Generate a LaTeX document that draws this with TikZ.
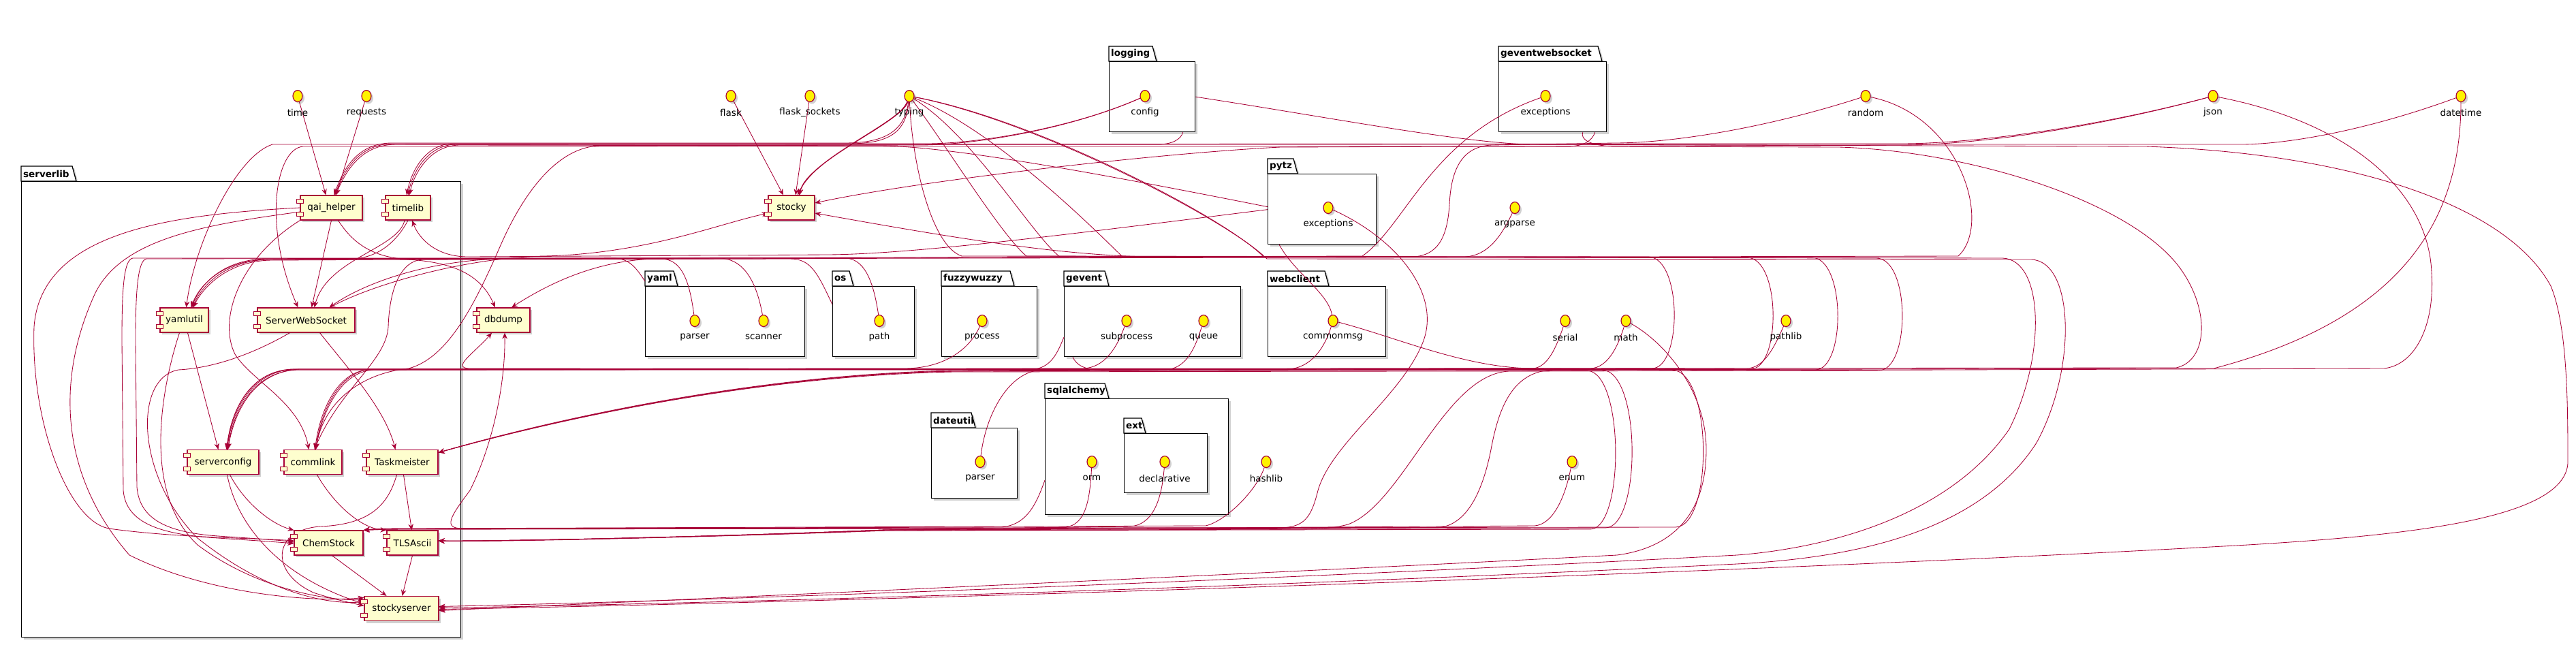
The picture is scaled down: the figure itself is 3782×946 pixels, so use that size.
\documentclass[tikz,border=0pt]{standalone}
\usepackage{fontspec}
\setmainfont{DejaVu Sans}
\usetikzlibrary{arrows.meta,shadows,shapes.geometric}
\definecolor{crim}{HTML}{A80036}
\definecolor{compfill}{HTML}{FEFECE}
\pgfdeclarelayer{bg}
\pgfdeclarelayer{edges}
\pgfsetlayers{bg,edges,main}
\tikzset{
 every node/.style={font=\fontsize{13.5}{16}\selectfont},
 shd/.style={drop shadow={shadow xshift=3pt, shadow yshift=-3pt, opacity=0.18, fill=black}},
 comp/.style={rectangle, draw=crim, line width=1.2pt, fill=compfill, minimum height=36pt, inner sep=0pt, shd},
 port/.style={draw=crim, line width=1pt, fill=compfill},
 iface/.style={ellipse, draw=crim, line width=1.2pt, fill=yellow, minimum width=14pt, minimum height=17pt, inner sep=0pt, shd},
 ilabel/.style={inner sep=0pt},
 pkgline/.style={draw=black, line width=1.3pt, fill=white, shd},
 pkgbody/.style={rectangle, draw=black, line width=1.3pt, fill=white, inner sep=0pt, shd},
 pkglabel/.style={inner sep=0pt, font=\fontsize{13.5}{16}\selectfont\bfseries},
 e/.style={draw=crim, line width=0.85pt, -{Stealth[length=9pt,width=7.5pt,inset=3pt]}},
 l/.style={draw=crim, line width=0.85pt},
}
% name, label, x1, x2, tabtop, bodytop, bottom, tabright
\newcommand\pkg[8]{%
 \draw[pkgline] (#3,#6) -- (#3,#5) -- (#8-6,#5) -- (#8,#6) -- cycle;
 \node[pkgbody, anchor=north west, minimum width={(#4)-(#3)}, minimum height={(#7)-(#6)}] (#1) at (#3,#6) {};
 \node[pkglabel, anchor=west] (#1-lbl) at (#3+3,{((#5)+(#6))/2}) {#2};}
\newcommand\comp[5]{%
 \node[comp, minimum width=#4pt] (#1) at (#2,#3) {#5};
 \draw[port] ([xshift=-5pt,yshift=-6pt]#1.north west) rectangle ++(10pt,-6pt);
 \draw[port] ([xshift=-5pt,yshift=6pt]#1.south west) rectangle ++(10pt,6pt);}
\newcommand\ifc[4]{%
 \node[iface] (#1) at (#2,#3) {};
 \node[ilabel] (#1-lbl) at (#2,#3+24) {#4};}
\begin{document}
\begin{tikzpicture}[x=1pt,y=-1pt]
\useasboundingbox (0,0) rectangle (3782,946);
\begin{pgfonlayer}{bg}
\fill[white] (0,0) rectangle (3782,946);
\pkg{serverlibP}{serverlib}{31}{676}{244}{266}{935}{112}
\pkg{loggingP}{logging}{1628}{1754}{68}{90}{193}{1698}
\pkg{gwsP}{geventwebsocket}{2200}{2358}{68}{90}{193}{2352}
\pkg{pytzP}{pytz}{1861}{2020}{233}{255}{358}{1905}
\pkg{yamlP}{yaml}{947}{1181}{398}{420}{523}{995}
\pkg{osP}{os}{1222}{1342}{398}{420}{523}{1253}
\pkg{fuzzyP}{fuzzywuzzy}{1382}{1522}{398}{420}{523}{1489}
\pkg{geventP}{gevent}{1562}{1821}{398}{420}{523}{1628}
\pkg{webclientP}{webclient}{1861}{2034}{398}{420}{523}{1951}
\pkg{dateutilP}{dateutil}{1367}{1493}{606}{628}{731}{1432}
\pkg{sqlP}{sqlalchemy}{1534}{1803}{563}{585}{755}{1628}
\pkg{extP}{ext}{1650}{1772}{614}{636}{723}{1682}
\end{pgfonlayer}

% components
\comp{qai}{486.5}{305}{91}{qai\_helper}
\comp{timelib}{599}{305}{66}{timelib}
\comp{stocky}{1162}{305}{68}{stocky}
\comp{yamlutil}{270.5}{470}{71}{yamlutil}
\comp{SWS}{449.5}{470}{143}{ServerWebSocket}
\comp{dbdump}{739}{470}{78}{dbdump}
\comp{serverconfig}{327.5}{678.5}{105}{serverconfig}
\comp{commlink}{459.5}{678.5}{85}{commlink}
\comp{Taskmeister}{590.5}{678.5}{105}{Taskmeister}
\comp{ChemStock}{482.5}{797}{101}{ChemStock}
\comp{TLSAscii}{605.5}{797}{75}{TLSAscii}
\comp{stockyserver}{589.5}{893.5}{109}{stockyserver}

% interfaces
\ifc{time}{437}{141}{time}
\ifc{requests}{538}{141}{requests}
\ifc{flask}{1073}{141}{flask}
\ifc{flasksockets}{1189}{141}{flask\_sockets}
\ifc{typing}{1335}{141}{typing}
\ifc{config}{1681}{141}{config}
\ifc{gwsexc}{2269}{141}{exceptions}
\ifc{random}{2739}{141}{random}
\ifc{json}{3249}{141}{json}
\ifc{datetime}{3613}{141}{datetime}
\ifc{pytzexc}{1950}{305}{exceptions}
\ifc{argparse}{2224}{305}{argparse}
\ifc{yparser}{1020}{471}{parser}
\ifc{yscanner}{1121}{471}{scanner}
\ifc{path}{1291}{471}{path}
\ifc{process}{1442}{471}{process}
\ifc{subprocess}{1654}{471}{subprocess}
\ifc{queue}{1767}{471}{queue}
\ifc{commonmsg}{1957}{471}{commonmsg}
\ifc{serial}{2298}{471}{serial}
\ifc{math}{2387}{471}{math}
\ifc{pathlib}{2622}{471}{pathlib}
\ifc{duparser}{1439}{678}{parser}
\ifc{orm}{1603}{678}{orm}
\ifc{declarative}{1710}{678}{declarative}
\ifc{hashlib}{1859}{678}{hashlib}
\ifc{enum}{2308}{678}{enum}

\begin{pgfonlayer}{edges}
% direct top
\draw[e] (time) -- ([xshift=-8pt]qai.north);
\draw[e] (requests) -- ([xshift=7pt]qai.north);
\draw[e] (flask) -- ([xshift=-12pt]stocky.north);
\draw[e] (flasksockets) -- ([xshift=6pt]stocky.north);
\draw[e] (typing) .. controls (1318,185) and (1200,225) .. ([xshift=9pt]stocky.north);
\draw[e] (typing) .. controls (1322,180) and (1190,232) .. ([xshift=11pt]stocky.north);
\draw[e] (typing) .. controls (1326,178) and (1182,238) .. ([xshift=12pt]stocky.north);
% band A
\draw[e] (typing) .. controls (1328,192) and (1300,210) .. (1240,210) -- (575,210) .. controls (527,210) and (505,245) .. ([xshift=4pt]qai.north);
\draw[e] (config) .. controls (1580,186) and (1440,211) .. (1360,211) -- (578,211) .. controls (529,211) and (507,247) .. ([xshift=5pt]qai.north);
\draw[e] ([xshift=45pt]loggingP.south) .. controls (1734,204) and (1722,212) .. (1700,212) -- (582,212) .. controls (531,212) and (509,249) .. ([xshift=6pt]qai.north);
\draw[e] (typing) .. controls (1330,195) and (1305,211) .. (1245,211) -- (665,211) .. controls (626,211) and (604,250) .. ([xshift=-2pt]timelib.north);
\draw[e] (datetime) .. controls (3480,190) and (3360,212) .. (3290,212) -- (670,212) .. controls (629,212) and (606,252) .. (timelib.north);
\draw[e] ([yshift=3.5pt]pytzP.west) .. controls (1650,262) and (1400,214) .. (1290,214) -- (675,213) .. controls (632,213) and (608,254) .. ([xshift=2pt]timelib.north);
\draw[e] ([xshift=62pt]gwsP.south) .. controls (2338,205) and (2328,215) .. (2300,215) -- (445,215) .. controls (405,218) and (385,330) .. ([xshift=-12pt]SWS.north);
\draw[e] (json) .. controls (3080,186) and (2900,211) .. (2790,211) -- (400,212) .. controls (345,230) and (285,360) .. ([xshift=3pt]yamlutil.north);
\draw[e] (json) .. controls (3075,188) and (2900,213) .. (2790,213) -- (1880,216) .. controls (1700,225) and (1350,265) .. ([yshift=7pt]stocky.east);
\draw[e] (random) .. controls (2600,186) and (2460,210) .. (2370,210) -- (2190,213) .. controls (2140,215) and (2130,260) .. (2128,300) .. controls (2125,350) and (2110,375) .. (2075,377) -- (215,380) .. controls (202,382) and (199,430) .. (199,500) -- (201,715) .. controls (205,765) and (250,782) .. (320,787) .. controls (380,791) and (410,793) .. ([yshift=1pt]ChemStock.west);
\draw[e] (loggingP.east) .. controls (1950,172) and (2130,207) .. (2240,212) -- (3150,215) .. controls (3450,225) and (3680,300) .. (3745,420) .. controls (3770,480) and (3770,600) .. (3770,680) .. controls (3765,760) and (3550,785) .. (3300,800) .. controls (2500,845) and (1200,885) .. ([yshift=-1pt]stockyserver.east);
\draw[e] ([xshift=44pt]gwsP.south) .. controls (2320,205) and (2335,214) .. (2370,215) -- (2700,216) .. controls (2900,222) and (3140,300) .. (3205,400) .. controls (3245,460) and (3240,530) .. (3195,540) -- (425,543) .. controls (368,546) and (340,600) .. ([xshift=5pt]serverconfig.north);
\draw[e] (config) .. controls (1570,190) and (1430,213) .. (1350,213) -- (880,214) .. controls (820,216) and (770,280) .. (735,360) .. controls (700,440) and (660,525) .. (600,541) .. controls (530,548) and (475,590) .. ([xshift=4pt]commlink.north);
% band B
\draw[e] ([yshift=7pt]yamlP.north west) .. controls (935,395) and (925,379) .. (900,379) -- (390,380) .. controls (330,381) and (295,415) .. ([xshift=11pt]yamlutil.north);
\draw[e] (yparser) .. controls (1012,410) and (1000,380) .. (970,380) -- (395,381) .. controls (333,382) and (297,418) .. ([xshift=12pt]yamlutil.north);
\draw[e] (yscanner) .. controls (1110,410) and (1090,379) .. (1055,379) -- (398,382) .. controls (336,383) and (299,420) .. ([xshift=13pt]yamlutil.north);
\draw[e] ([yshift=-27pt]osP.north west) .. controls (1200,400) and (1190,380) .. (1160,380) -- (620,381) .. controls (590,383) and (572,420) .. (570,480) .. controls (567,530) and (500,570) .. ([xshift=2pt]commlink.north);
\draw[e] (path) .. controls (1282,410) and (1268,379) .. (1240,379) -- (195,379) .. controls (181,381) and (179,430) .. (179,500) -- (181,720) .. controls (185,770) and (240,785) .. (320,790) .. controls (380,794) and (410,796) .. ([yshift=-1pt]ChemStock.west);
\draw[e] (gwsexc) .. controls (2100,200) and (2065,330) .. (2000,376) -- (730,380) .. controls (610,385) and (525,422) .. ([xshift=34pt]SWS.north);
\draw[e] (argparse) .. controls (2205,345) and (2185,376) .. (2150,377) -- (1700,377) .. controls (1550,377) and (1350,340) .. ([yshift=-8pt]stocky.east);
\draw[e] ([yshift=-0.5pt]pytzP.west) .. controls (1600,340) and (1350,373) .. (1215,374) -- (690,377) .. controls (640,378) and (615,350) .. ([xshift=6pt]timelib.south);
\draw[e] (random) .. controls (2880,170) and (2925,330) .. (2875,376) -- (960,380) .. controls (870,383) and (800,420) .. ([xshift=12pt]dbdump.north);
\draw[e] ([xshift=35pt]SWS.north) .. controls (540,420) and (680,378) .. (800,376) .. controls (950,372) and (1050,330) .. ([yshift=-8pt]stocky.west);
% typing via band B -> C
\draw[e] (typing) .. controls (1340,250) and (1370,362) .. (1412,376) -- (2420,377) .. controls (2470,378) and (2470,541) .. (2425,541) -- (428,542) .. controls (369,545) and (339,600) .. ([xshift=6pt]serverconfig.north);
\draw[e] (typing) .. controls (1390,215) and (1470,345) .. (1507,376) -- (2565,378) .. controls (2615,379) and (2615,542) .. (2570,542) -- (540,543) .. controls (497,546) and (470,600) .. ([xshift=3pt]commlink.north);
\draw[e] (typing) .. controls (1430,200) and (1515,345) .. (1556,377) -- (2660,378) .. controls (2710,379) and (2710,543) .. (2665,543) -- (690,541) .. controls (660,541) and (700,515) .. ([xshift=-17pt]dbdump.south);
\draw[e] (typing) .. controls (1460,190) and (1605,335) .. (1648,377) -- (2755,379) .. controls (2805,380) and (2805,544) .. (2758,544) -- (1400,546) .. controls (1100,552) and (800,620) .. ([yshift=14pt]Taskmeister.east);
\draw[e] (typing) .. controls (1520,175) and (1800,320) .. (1855,377) -- (2940,379) .. controls (3000,381) and (3005,520) .. (2950,630) .. controls (2860,760) and (2680,805) .. (2550,815) .. controls (1800,855) and (1000,883) .. ([yshift=3pt]stockyserver.east);
\draw[e] (typing) .. controls (1525,178) and (1805,325) .. (1860,380) -- (2982,381) .. controls (3045,383) and (3050,540) .. (2990,650) .. controls (2900,790) and (2700,820) .. (2550,828) .. controls (1800,865) and (1000,887) .. ([yshift=1pt]stockyserver.east);
% band C
\draw[e] (process) .. controls (1425,510) and (1390,540) .. (1330,541) -- (432,542) .. controls (371,545) and (341,600) .. ([xshift=6pt]serverconfig.north);
\draw[e] ([yshift=-75pt]geventP.north west) .. controls (1550,525) and (1540,542) .. (1510,543) -- (436,543) .. controls (373,546) and (343,600) .. ([xshift=7pt]serverconfig.north);
\draw[e] (subprocess) .. controls (1640,510) and (1622,540) .. (1590,541) -- (545,542) .. controls (500,545) and (472,600) .. ([xshift=4pt]commlink.north);
\draw[e] ([xshift=13pt]geventP.south west) .. controls (1580,535) and (1590,543) .. (1620,544) -- (2330,544) .. controls (2385,546) and (2385,776) .. (2335,777) -- (1300,779) .. controls (1000,790) and (700,795) .. ([yshift=3pt]TLSAscii.east);
\draw[e] (queue) .. controls (1755,510) and (1742,542) .. (1710,543) -- (1400,545) .. controls (1100,551) and (800,621) .. ([yshift=14pt]Taskmeister.east);
\draw[e] (commonmsg) .. controls (1945,510) and (1925,541) .. (1890,542) -- (1400,544) .. controls (1100,550) and (800,619) .. ([yshift=14pt]Taskmeister.east);
\draw[e] (serial) .. controls (2285,510) and (2272,540) .. (2250,541) -- (440,542) .. controls (375,545) and (345,600) .. ([xshift=7pt]serverconfig.north);
\draw[e] (math) .. controls (2375,510) and (2360,540) .. (2335,541) -- (548,543) .. controls (502,546) and (474,600) .. ([xshift=4pt]commlink.north);
\draw[e] (pathlib) .. controls (2605,510) and (2590,540) .. (2565,541) -- (1400,545) .. controls (1100,550) and (800,620) .. ([yshift=14pt]Taskmeister.east);
\draw[e] (datetime) .. controls (3613,330) and (3520,470) .. (3250,541) -- (2280,543) .. controls (2220,545) and (2200,600) .. (2189,660) .. controls (2175,730) and (2150,772) .. (2110,775) -- (600,777) .. controls (560,777) and (545,778) .. (ChemStock.north east);
\draw[e] (json) .. controls (3450,180) and (3565,280) .. (3570,400) .. controls (3575,480) and (3545,536) .. (3500,541) -- (2215,545) .. controls (2120,550) and (2060,740) .. (1979,770) .. controls (1960,775) and (1940,777) .. (1900,777) -- (1300,779) .. controls (1000,790) and (700,796) .. ([yshift=3pt]TLSAscii.east);
% band D
\draw[e] ([yshift=-120pt]sqlP.north west) .. controls (1520,745) and (1505,771) .. (1470,774) -- (600,776) .. controls (560,776) and (545,777) .. (ChemStock.north east);
\draw[e] (orm) .. controls (1600,740) and (1592,770) .. (1565,774) -- (1300,778) .. controls (1000,790) and (700,795) .. ([yshift=3pt]TLSAscii.east);
\draw[e] (declarative) .. controls (1705,740) and (1690,770) .. (1660,773) -- (1300,778) .. controls (1000,790) and (700,795) .. ([yshift=3pt]TLSAscii.east);
\draw[e] (hashlib) .. controls (1845,720) and (1800,765) .. (1770,772) -- (600,776) .. controls (560,776) and (545,777) .. (ChemStock.north east);
\draw[e] (enum) .. controls (2298,730) and (2280,770) .. (2253,772) -- (1300,778) .. controls (1000,790) and (700,795) .. ([yshift=3pt]TLSAscii.east);
\draw[e] (duparser) .. controls (1447,610) and (1480,545) .. (1530,543) -- (2352,543) .. controls (2410,545) and (2410,774) .. (2357,775) -- (1300,778) .. controls (1000,790) and (700,795) .. ([yshift=3pt]TLSAscii.east);
\draw[e] (commonmsg) .. controls (2050,495) and (2150,540) .. (2250,541) -- (2455,543) .. controls (2515,546) and (2515,773) .. (2460,774) -- (680,776) .. controls (650,776) and (660,760) .. (690,720) .. controls (725,650) and (742,560) .. ([xshift=2pt]dbdump.south);
\draw[e] (math) .. controls (2440,500) and (2505,570) .. (2505,660) .. controls (2505,760) and (2450,805) .. (2374,815) .. controls (1800,845) and (1000,880) .. ([yshift=-3pt]stockyserver.east);
\draw[e] (pytzexc) .. controls (2050,350) and (2115,430) .. (2090,500) .. controls (2060,580) and (1955,650) .. (1935,720) .. controls (1925,760) and (1915,774) .. (1880,775) -- (600,777) .. controls (560,777) and (545,778) .. (ChemStock.north east);
\draw[l] ([xshift=-63pt]pytzP.south) .. controls (1900,400) and (1950,430) .. (commonmsg);
% within serverlib
\draw[e] (qai.west) .. controls (250,315) and (60,340) .. (50,480) .. controls (45,620) and (100,765) .. (160,776) .. controls (260,790) and (380,790) .. ([yshift=3pt]ChemStock.west);
\draw[e] ([yshift=-6pt]qai.west) .. controls (300,330) and (180,350) .. (140,430) .. controls (80,560) and (90,700) .. (190,815) .. controls (300,870) and (450,885) .. ([yshift=16pt]stockyserver.west);
\draw[e] (qai.south west) .. controls (350,380) and (320,470) .. (345,520) .. controls (370,560) and (440,590) .. ([xshift=-6pt]commlink.north);
\draw[e] (qai.south) -- ([xshift=8pt]SWS.north);
\draw[e] ([xshift=10pt]qai.south) .. controls (520,360) and (550,378) .. (600,381) .. controls (660,385) and (705,400) .. ([xshift=-12pt]dbdump.north);
\draw[e] (timelib.south) .. controls (585,350) and (560,377) .. (520,380) -- (390,381) .. controls (325,383) and (292,420) .. ([xshift=10pt]yamlutil.north);
\draw[e] ([xshift=-5pt]timelib.south) .. controls (585,365) and (480,380) .. ([xshift=12pt]SWS.north);
\draw[e] ([xshift=5pt]yamlutil.south) -- ([xshift=-7pt]serverconfig.north);
\draw[e] ([xshift=-7pt]yamlutil.south) .. controls (240,560) and (205,720) .. (290,800) .. controls (370,860) and (470,882) .. ([yshift=13pt]stockyserver.west);
\draw[e] ([xshift=20pt]SWS.south) .. controls (510,540) and (565,600) .. ([xshift=-10pt]Taskmeister.north);
\draw[e] ([xshift=-24pt]SWS.south) .. controls (380,515) and (320,540) .. (262,543) .. controls (195,555) and (200,700) .. (290,790) .. controls (390,870) and (480,888) .. ([yshift=10pt]stockyserver.west);
\draw[e] ([xshift=10pt]serverconfig.south) .. controls (360,740) and (400,770) .. (ChemStock.north west);
\draw[e] ([xshift=6pt]serverconfig.south) .. controls (350,780) and (420,850) .. ([yshift=7pt]stockyserver.west);
\draw[e] ([xshift=6pt]commlink.south) .. controls (490,740) and (530,776) .. (TLSAscii.north west);
\draw[e] ([xshift=2pt]Taskmeister.south) -- ([xshift=-1pt]TLSAscii.north);
\draw[e] ([xshift=-8pt]Taskmeister.south) .. controls (570,740) and (545,770) .. (470,773) .. controls (400,778) and (395,840) .. (460,870) .. controls (490,880) and (515,885) .. ([yshift=4pt]stockyserver.west);
\draw[e] ([xshift=5pt]ChemStock.south) -- ([xshift=-22pt]stockyserver.north);
\draw[e] (TLSAscii.south) -- ([xshift=1pt]stockyserver.north);
\end{pgfonlayer}
\end{tikzpicture}
\end{document}
